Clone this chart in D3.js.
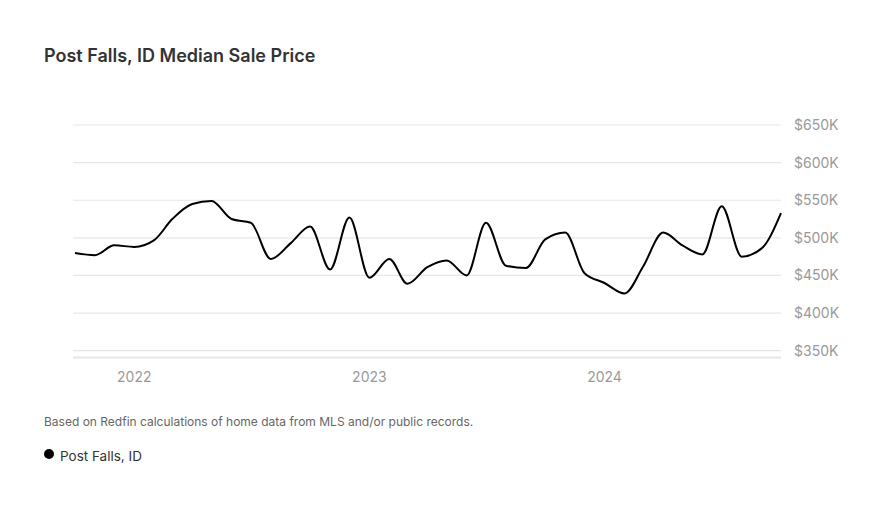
<!DOCTYPE html>
<html><head><meta charset="utf-8">
<script src="https://cdn.jsdelivr.net/npm/d3@7"></script>
<style>
body{margin:0;background:#fff;}
svg{display:block;font-family:Inter,"Noto Sans",sans-serif;}
</style></head>
<body>
<svg id="c" width="888" height="509"></svg>
<script>
const months = ["2021-10","2021-11","2021-12","2022-01","2022-02","2022-03","2022-04","2022-05","2022-06","2022-07","2022-08","2022-09","2022-10","2022-11","2022-12","2023-01","2023-02","2023-03","2023-04","2023-05","2023-06","2023-07","2023-08","2023-09","2023-10","2023-11","2023-12","2024-01","2024-02","2024-03","2024-04","2024-05","2024-06","2024-07","2024-08","2024-09","2024-10"];
const prices = [480,477,490,488,497,525,545,549,525,520,472,493,515,458,527,447,472,439,461,470,450,520,463,460,498,507,453,440,426,462,507,490,478,542,475,486,533];
const yTicks = [350,400,450,500,550,600,650];
const xTicks = ["2022","2023","2024"];

const svg = d3.select("#c");
const parse = d3.timeParse("%Y-%m");
const data = months.map((m,i)=>({d:parse(m), v:prices[i]}));

const x = d3.scaleTime().domain([parse("2021-10"), parse("2024-10")]).range([75, 781]);
const y = d3.scaleLinear().domain([350, 650]).range([350.7, 125]);

svg.append("text").attr("x",44).attr("y",62)
  .attr("font-size",18).attr("font-weight",600).attr("fill","#333")
  .text("Post Falls, ID Median Sale Price");

const g = svg.append("g");
g.selectAll("line.grid").data(yTicks).enter().append("line")
  .attr("x1",73).attr("x2",781)
  .attr("y1",d=>y(d)).attr("y2",d=>y(d))
  .attr("stroke","#e6e6e6").attr("stroke-width",1.2);
g.append("line").attr("x1",73).attr("x2",781).attr("y1",357.5).attr("y2",357.5)
  .attr("stroke","#e6e6e6").attr("stroke-width",2);

g.selectAll("text.yl").data(yTicks).enter().append("text")
  .attr("x",794).attr("y",d=>y(d)+5)
  .attr("font-size",14).attr("fill","#999")
  .text(d=>"$"+d+"K");

g.selectAll("text.xl").data(xTicks).enter().append("text")
  .attr("x",d=>x(parse(d+"-01"))).attr("y",382)
  .attr("text-anchor","middle").attr("font-size",14).attr("fill","#999")
  .text(d=>d);

const line = d3.line().x(d=>x(d.d)).y(d=>y(d.v)).curve(d3.curveMonotoneX);
g.append("path").datum(data).attr("d",line)
  .attr("fill","none").attr("stroke","#000").attr("stroke-width",2);

svg.append("text").attr("x",44).attr("y",426)
  .attr("font-size",12).attr("fill","#666")
  .text("Based on Redfin calculations of home data from MLS and/or public records.");

svg.append("circle").attr("cx",49).attr("cy",454).attr("r",5).attr("fill","#000");
svg.append("text").attr("x",60).attr("y",461)
  .attr("font-size",13.5).attr("fill","#333").text("Post Falls, ID");
</script>
</body></html>
